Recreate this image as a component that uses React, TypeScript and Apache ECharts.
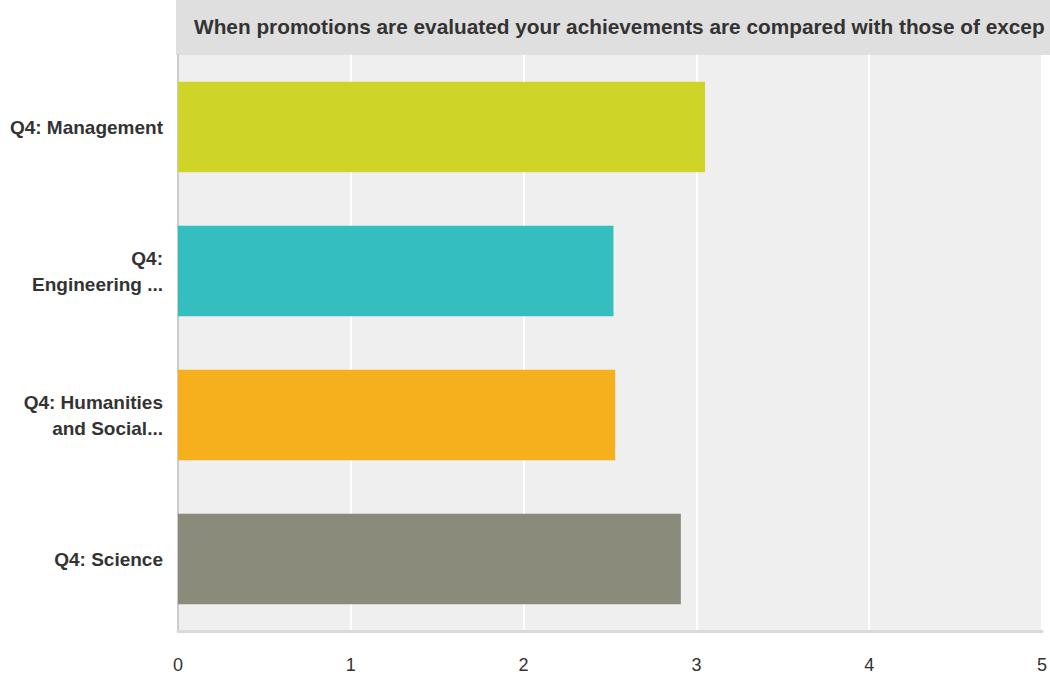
import React, { useEffect, useRef } from "react";
import * as echarts from "echarts";

const TITLE = "When promotions are evaluated your achievements are compared with those of excep";
const categories = ["Q4: Management", "Q4:\nEngineering ...", "Q4: Humanities\nand Social...", "Q4: Science"];
const values = [3.05, 2.52, 2.53, 2.91];
const barColors = ["#cfd528", "#34bec0", "#f6b01e", "#8a8b7a"];
const xTicks = { min: 0, max: 5, interval: 1 };

const FONT = "'Liberation Sans', Arial, Helvetica, sans-serif";

export default function App() {
  const ref = useRef<HTMLDivElement>(null);
  useEffect(() => {
    if (!ref.current) return;
    const chart = echarts.init(ref.current, undefined, { renderer: "svg" });
    chart.setOption({
      animation: false,
      backgroundColor: "#ffffff",
      textStyle: { fontFamily: FONT },
      graphic: [
        {
          type: "rect",
          left: 176,
          top: 0,
          shape: { width: 874, height: 55 },
          style: { fill: "#dfdfdf" },
          z: 0,
        },
        {
          type: "text",
          x: 194,
          y: 26,
          style: {
            text: TITLE,
            fill: "#333333",
            font: `bold 20.8px ${FONT}`,
            textVerticalAlign: "middle",
            verticalAlign: "middle",
          },
          z: 1,
        },
      ],
      grid: {
        left: 178,
        top: 55,
        right: 6,
        bottom: 48,
        show: true,
        backgroundColor: "#efefef",
        borderWidth: 0,
      },
      xAxis: {
        type: "value",
        min: xTicks.min,
        max: xTicks.max,
        interval: xTicks.interval,
        axisLine: { show: true, lineStyle: { color: "#d9d9d9", width: 3 } },
        axisTick: { show: false },
        splitLine: { show: true, lineStyle: { color: "#ffffff", width: 2 } },
        axisLabel: { color: "#333333", fontSize: 18, margin: 25, fontFamily: FONT },
      },
      yAxis: {
        type: "category",
        data: categories,
        inverse: true,
        axisLine: { show: true, lineStyle: { color: "#cccccc", width: 2 } },
        axisTick: { show: false },
        splitLine: { show: false },
        axisLabel: {
          color: "#333333",
          fontSize: 19,
          fontWeight: "bold",
          margin: 15,
          lineHeight: 26,
          align: "right",
          fontFamily: FONT,
        },
      },
      series: [
        {
          type: "bar",
          barWidth: "63%",
          data: values.map((v, i) => ({ value: v, itemStyle: { color: barColors[i] } })),
        },
      ],
    });
    return () => chart.dispose();
  }, []);
  return (
    <div
      ref={ref}
      style={{ position: "fixed", left: 0, top: 0, width: 1050, height: 679 }}
    />
  );
}
